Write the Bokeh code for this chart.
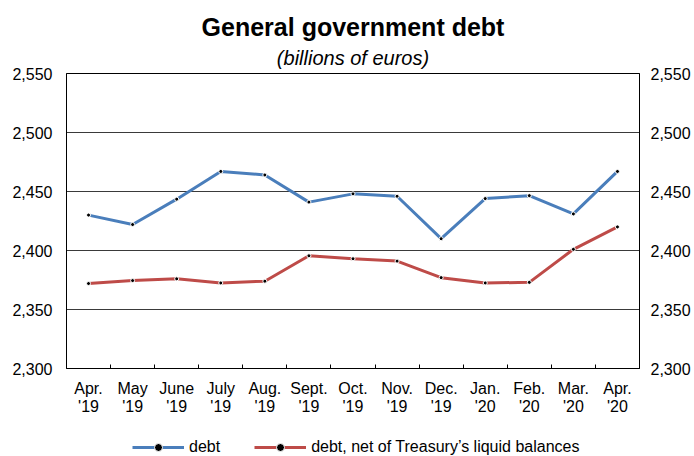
from bokeh.plotting import figure
from bokeh.layouts import column
from bokeh.models import (LinearAxis, FixedTicker, NumeralTickFormatter, Range1d,
                          Legend, LegendItem, Title, ColumnDataSource)
from bokeh.embed import file_html
from bokeh.resources import INLINE

months = ["Apr.\n'19", "May\n'19", "June\n'19", "July\n'19", "Aug.\n'19", "Sept.\n'19",
          "Oct.\n'19", "Nov.\n'19", "Dec.\n'19", "Jan.\n'20", "Feb.\n'20", "Mar.\n'20", "Apr.\n'20"]
debt = [2430, 2422, 2443.5, 2467, 2464, 2441, 2448, 2446, 2410, 2444, 2446.5, 2431, 2467]
debt_net = [2372, 2374.5, 2376, 2372.5, 2374, 2395.5, 2393, 2391, 2377, 2372.5, 2373, 2401, 2420]
y_ticks = [2300, 2350, 2400, 2450, 2500, 2550]
series_names = ["debt", "debt, net of Treasury\u2019s liquid balances"]

FONT = "Liberation Sans"
BLUE = "#4A7EBB"
RED = "#BE4B48"
W = 694
H_MAIN = 430
H_LEG = 26

xs = list(range(len(months)))
src = ColumnDataSource(dict(x=xs, debt=debt, net=debt_net))

p = figure(width=W, height=H_MAIN, output_backend="svg", toolbar_location=None,
           x_range=Range1d(-0.5, len(months) - 0.5), y_range=Range1d(y_ticks[0], y_ticks[-1]),
           min_border_left=66, min_border_right=55, min_border_top=73, min_border_bottom=62,
           title="General government debt")
p.background_fill_color = "white"
p.border_fill_color = "white"
p.outline_line_color = "black"
p.outline_line_width = 1

# titles
p.title.text_font = FONT
p.title.text_font_size = "25px"
p.title.text_font_style = "bold"
p.title.text_color = "black"
p.title.align = "center"
p.title.standoff = 0
p.title.offset = 0
sub = Title(text="(billions of euros)", text_font=FONT, text_font_size="20px",
            text_font_style="italic", text_color="black", align="center", standoff=9)
p.add_layout(sub, "above")

# axes
p.xaxis.ticker = FixedTicker(ticks=xs, minor_ticks=[i + 0.5 for i in xs[:-1]])
p.xaxis.major_label_overrides = {i: m for i, m in zip(xs, months)}
p.xaxis.major_tick_in = 0
p.xaxis.major_tick_out = 0
p.xaxis.minor_tick_in = 4
p.xaxis.minor_tick_out = 0
p.xaxis.minor_tick_line_color = "black"
p.xaxis.axis_line_color = "black"
p.xaxis.major_label_text_font = FONT
p.xaxis.major_label_text_font_size = "16px"
p.xaxis.major_label_text_color = "black"
p.xaxis.major_label_text_line_height = 1.1
p.xaxis.major_label_standoff = 11

yt = FixedTicker(ticks=y_ticks)
right = LinearAxis()
p.add_layout(right, "right")
for ax, so in ((p.yaxis[0], 14), (right, 11)):
    ax.ticker = yt
    ax.formatter = NumeralTickFormatter(format="0,0")
    ax.major_tick_in = 0
    ax.major_tick_out = 0
    ax.minor_tick_in = 0
    ax.minor_tick_out = 0
    ax.axis_line_color = "black"
    ax.major_label_text_font = FONT
    ax.major_label_text_font_size = "16px"
    ax.major_label_text_color = "black"
    ax.major_label_standoff = so

p.xgrid.visible = False
p.ygrid.ticker = yt
p.ygrid.grid_line_color = "#3a3a3a"
p.ygrid.grid_line_width = 1

# series
p.line("x", "debt", source=src, line_color=BLUE, line_width=3)
p.scatter("x", "debt", source=src, size=4, fill_color="black", line_color="white", line_width=1)
p.line("x", "net", source=src, line_color=RED, line_width=3)
p.scatter("x", "net", source=src, size=4, fill_color="black", line_color="white", line_width=1)

# legend strip (key renderers sit outside its visible range)
lf = figure(width=W, height=H_LEG, output_backend="svg", toolbar_location=None,
            x_range=Range1d(0, 1), y_range=Range1d(0, 1),
            min_border_left=0, min_border_right=0, min_border_top=0, min_border_bottom=0)
lf.axis.visible = False
lf.grid.visible = False
lf.outline_line_color = None
key_src = ColumnDataSource(dict(x=[-10, -9], y=[-10, -9]))
items = []
for name, col in zip(series_names, (BLUE, RED)):
    lr = lf.line("x", "y", source=key_src, line_color=col, line_width=3)
    sr = lf.scatter("x", "y", source=key_src, size=4, fill_color="black", line_color="white", line_width=1)
    items.append(LegendItem(label=name, renderers=[lr, sr]))
leg = Legend(items=items, orientation="horizontal", location=(66, -1),
             border_line_color=None, background_fill_alpha=0,
             label_text_font=FONT, label_text_font_size="16px", label_text_color="black",
             glyph_width=52, glyph_height=20, label_standoff=5, spacing=34, padding=0, margin=0)
lf.add_layout(leg, "center")

layout = column(p, lf, spacing=0)
open("out.html", "w").write(file_html(layout, INLINE))
